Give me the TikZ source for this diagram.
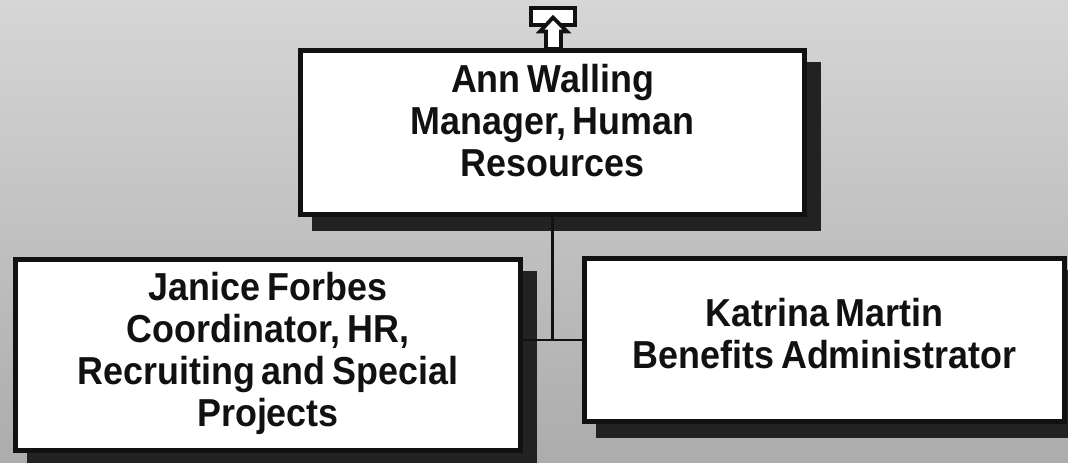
\documentclass[tikz,border=0pt]{standalone}
\usepackage{fontspec}
\setmainfont{Liberation Sans}[FakeStretch=0.92,WordSpace=0.7]
\usetikzlibrary{calc}
\pgfdeclarelayer{bg}
\pgfdeclarelayer{shadow}
\pgfsetlayers{bg,shadow,main}
\definecolor{edge}{HTML}{111111}
\definecolor{shc}{HTML}{222222}
\definecolor{bgtop}{HTML}{D6D6D6}
\definecolor{bgbot}{HTML}{ACACAC}
\begin{document}
\begin{tikzpicture}[x=1pt,y=-1pt,
  box/.style={draw=edge, line width=5pt, fill=white, rectangle, inner sep=0pt},
  lbl/.style={align=center, font=\bfseries\fontsize{39}{42}\selectfont, text=edge, inner sep=0pt},
  conn/.style={draw=edge, line width=2.3pt},
  shadowfill/.style={fill=shc},
  icon/.style={draw=edge, line width=3.8pt, fill=white, line join=miter}]
\useasboundingbox (0,0) rectangle (1068,463);
\begin{pgfonlayer}{bg}
  \shade[top color=bgtop, bottom color=bgbot] (0,0) rectangle (1068,463);
\end{pgfonlayer}

% boxes
\node[box, minimum width=504pt, minimum height=164pt] (ann) at (552.5,132.5) {};
\node[box, minimum width=505pt, minimum height=191pt] (janice) at (268,355) {};
\node[box, minimum width=480pt, minimum height=163pt] (katrina) at (824.5,340) {};

% shadows
\begin{pgfonlayer}{shadow}
  \foreach \n in {ann,janice,katrina}{
    \fill[shadowfill] ($(\n.north west)+(14,14)$) rectangle ($(\n.south east)+(14,14)$);
  }
\end{pgfonlayer}

% connectors
\coordinate (junc) at (ann.south |- 0,340);
\begin{pgfonlayer}{shadow}
  \draw[conn] (ann.south) -- (junc);
  \draw[conn] (janice.east |- junc) -- (katrina.west |- junc);
\end{pgfonlayer}

% labels
\node[lbl] (annl) at ($(ann)+(0,-12)$) {Ann Walling\\Manager, Human\\Resources};
\node[lbl] (janl) at ($(janice)+(0,-1.5)$) {Janice Forbes\\Coordinator, HR,\\Recruiting and Special\\Projects};
\node[lbl] (katl) at ($(katrina)+(0,-6)$) {Katrina Martin\\Benefits Administrator};

% up icon
\node[draw=edge, line width=3.8pt, fill=white, minimum width=43.4pt, minimum height=16.7pt, inner sep=0pt] (up) at (553,16.35) {};
\draw[icon] (553,17.5) -- (540,31.5) -- (546,31.5) -- (546,49) -- (561,49) -- (561,31.5) -- (567,31.5) -- cycle;
\end{tikzpicture}
\end{document}
